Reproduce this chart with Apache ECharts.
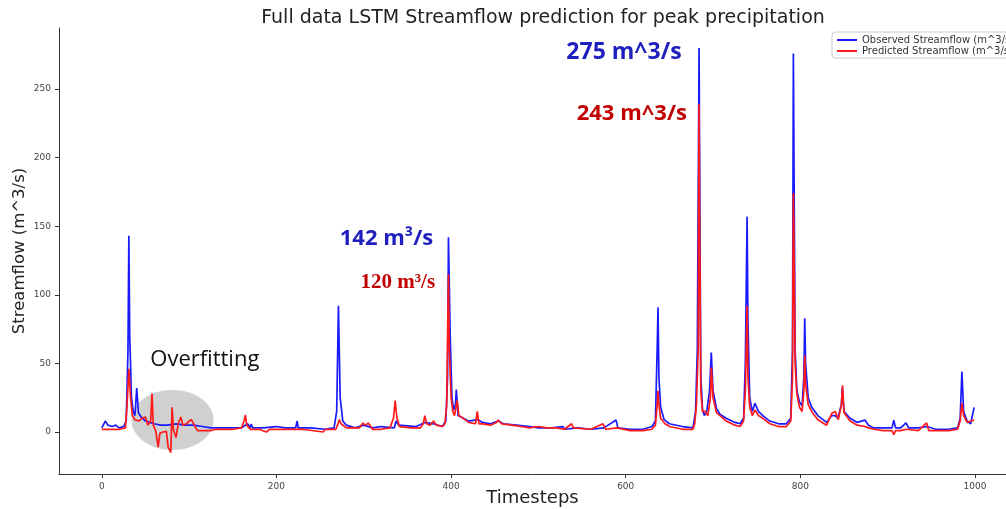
<!DOCTYPE html>
<html>
<head>
<meta charset="utf-8">
<script src="https://cdn.jsdelivr.net/npm/echarts@6/dist/echarts.min.js"></script>
<style>
  html, body { margin:0; padding:0; background:#fff; }
  #chart { width:1006px; height:509px; }
</style>
</head>
<body>
<div id="chart"></div>
<script>
// === Data (timestep, m^3/s) ===
const observed = [
  [0,3],[4,8],[7,5],[12,4],[16,5],[20,3],[25,4],[28,8],[30,60],[31,143],[32,70],[34,25],[36,15],[38,12],[40,32],[42,14],
  [45,11],[50,8],[55,7],[60,6],[67,5],[75,5],[86,6],[95,5],[105,5],[115,4],[125,3],[140,3],[150,3],[160,3],[167,6],[170,3],
  [171,5.7],[173,3],[185,3],[200,4],[210,3],[222,3],[223.7,8],[225,3],[240,3],[255,2],[266,3],[269,15],[271,92],[273,25],
  [276,8],[280,5],[290,3],[300,5],[310,3],[320,4],[335,3],[337,8],[340,5],[360,4],[370,7],[380,6],[390,4],[394,8],[396,40],
  [397,142],[399,70],[401,25],[403,16],[405,20],[406,31],[408,12],[414,10],[420,8],[431,9],[436,7],[445,6],[454,8],[460,6],
  [475,5],[490,4],[500,3],[515,3],[528,4],[530,2],[545,3],[560,2],[575,3],[589,8.7],[591,3],[605,2],[620,2],[630,4],[634,8],
  [636,60],[637,91],[638,40],[640,18],[644,9],[650,6],[665,4],[677,3],[680,15],[682,60],[684,280],[685,150],[686,40],[688,16],
  [690,12],[693,16],[696,30],[698,58],[700,30],[704,17],[708,13],[715,10],[725,7],[731,6],[735,10],[737,50],[739,157],[740,80],
  [742,25],[745,15],[748,21],[752,15],[757,12],[765,8],[775,6],[784,6],[789,10],[791,60],[792,276],[793,165],[794,60],[796,30],
  [799,22],[802,19],[804,40],[805,83],[806,50],[809,25],[813,18],[820,12],[830,7],[836,12],[840,12],[843,10],[847,20],[848,32],
  [850,15],[857,10],[865,7],[874,8.7],[878,5],[884,3],[895,3],[905,3],[907,8.7],[909,3],[915,3],[921,6.6],[924,3],[935,3],
  [945,4],[955,2],[970,2],[980,3],[983,10],[985,44],[987,15],[991,8],[995,6],[997,5],[999,18]
];
const predicted = [
  [0,2],[10,2],[20,2],[27,3],[29,20],[31,46],[33,25],[35,12],[38,9],[42,8],[46,10],[50,11],[53,5],[56,8],[57.5,28],[59,5],
  [61,2],[62,0],[64.5,-11],[66.5,-1],[70,0],[74,0.5],[76,-11],[79,-15],[80.5,18],[82,2],[85,-4],[87.5,6],[90.5,11],[93,5],
  [97,6],[100,8],[102.5,9],[106,5],[109.5,1],[115,1],[125,1],[130,2],[140,2],[150,2],[160,3],[163,8],[164.5,12.4],[166,5],
  [170,2],[180,2],[188.6,0],[192,2],[210,2],[230,2],[253.5,0],[256,2],[268,2],[270,5],[272,9],[274,6],[280,3],[295,3],
  [299,6.5],[302,5],[305,6.5],[307,5],[310,2],[320,2],[330,3],[334,10],[336,23],[338,10],[341,4],[355,3],[365,3],[368,6],
  [370,12],[372,6],[376,5],[380,8],[383,5],[390,4],[393,6],[395,20],[396,70],[397,115],[398,60],[400,25],[402,15],[404,12],
  [407,23],[409,12],[414,10],[420,7],[428,6],[430,15],[432,6],[436,6],[445,5],[452,7],[454,8.7],[458,6],[470,5],[480,4],
  [490,3],[500,4],[510,3],[520,3],[530,2],[538,6],[540,3],[560,2],[574,6],[577,2],[590,3],[605,1],[620,1],[630,2],[634,5],
  [636,20],[637,30],[638,20],[640,10],[645,6],[650,4],[665,2],[677,2],[679,6],[681,20],[683,60],[684,239],[685,120],[686,30],
  [688,15],[691,15],[694,12],[697,25],[698,47],[700,25],[704,14],[708,12],[715,8],[725,5],[731,4],[735,8],[737,30],[739,92],
  [740,40],[742,18],[745,12],[748,16],[752,12],[757,10],[765,6],[775,4],[784,4],[789,8],[791,40],[792,174],[793,120],[794,50],
  [796,28],[799,18],[802,15],[804,30],[805,56],[806,35],[809,20],[813,15],[820,9],[830,5],[836,13.6],[840,15],[843.5,9],
  [847,20],[848.4,34],[850,14],[857,8],[865,5],[874,4],[878,3],[884,2],[895,1],[905,1],[907,-2],[909,1],[915,1],[921,2],
  [935,1],[944.6,6.6],[947,1],[955,1],[970,1],[980,2],[983,8],[985,21],[987,12],[991,7],[995,8],[999,8.7]
];
const xTicks = [0, 200, 400, 600, 800, 1000];
const yTicks = [0, 50, 100, 150, 200, 250];
const seriesNames = ['Observed Streamflow (m^3/s)', 'Predicted Streamflow (m^3/s)'];

// annotations, placed in data coords
const notes = [
  { text:'275 m^3/s', at:[598,277], color:'#1f1fbf', font:'bold 23px "Open Sans"' },
  { text:'243 m^3/s', at:[607,232], color:'#c00000', font:'bold 22px "Open Sans"' },
  { text:'142 m³/s',  at:[326,141], color:'#1f1fbf', font:'bold 22px "Open Sans"' },
  { text:'120 m³/s',  at:[339,109], color:'#c00000', font:'bold 21px "Liberation Serif"' },
  { text:'Overfitting', at:[118,52.5], color:'#111', font:'22px "Open Sans"' }
];
const blob = { at:[81,8.7], rx:41, ry:30 };

// === Palette / axes ===
const blue = '#1a1aff', red = '#ff1a1a', ink = '#333';
const tickLbl = { color:'#444', fontSize:9, fontFamily:'DejaVu Sans', formatter:v=>String(v) };

const option = {
  animation:false,
  title:{ text:'Full data LSTM Streamflow prediction for peak precipitation', left:538, textAlign:'center', top:4,
    textStyle:{ fontFamily:'DejaVu Sans', fontSize:19, fontWeight:'normal', color:'#222' } },
  legend:{ data:seriesNames, orient:'vertical', left:832, top:32, itemWidth:20, itemHeight:2, itemGap:1,
    icon:'rect', padding:[3,6,2,5], backgroundColor:'#fff', borderColor:'#ccc', borderWidth:1, borderRadius:3,
    textStyle:{ fontFamily:'DejaVu Sans', fontSize:10, color:'#333' } },
  grid:{ left:59, right:0, top:28, bottom:35, outerBoundsMode:'none' },
  xAxis:{ type:'value', min:-49, max:1035.5,
    name:'Timesteps', nameLocation:'middle', nameGap:15, nameMoveOverlap:false,
    nameTextStyle:{ fontFamily:'DejaVu Sans', fontSize:18, color:'#222' },
    axisLine:{ onZero:false, lineStyle:{ color:ink, width:1 } },
    axisTick:{ customValues:xTicks, length:4, lineStyle:{ color:ink } },
    axisLabel:{ customValues:xTicks, margin:8, ...tickLbl },
    splitLine:{ show:false } },
  yAxis:{ type:'value', min:-30.6, max:294.5,
    name:'Streamflow (m^3/s)', nameLocation:'middle', nameGap:31, nameMoveOverlap:false,
    nameTextStyle:{ fontFamily:'DejaVu Sans', fontSize:16.5, color:'#222' },
    axisLine:{ show:true, onZero:false, lineStyle:{ color:ink, width:1 } },
    axisTick:{ show:true, customValues:yTicks, length:4, lineStyle:{ color:ink } },
    axisLabel:{ customValues:yTicks, margin:8, ...tickLbl },
    splitLine:{ show:false } },
  series:[
    { name:seriesNames[0], type:'line', data:observed, symbol:'none', lineStyle:{ color:blue, width:1.7 }, itemStyle:{ color:blue } },
    { name:seriesNames[1], type:'line', data:predicted, symbol:'none', lineStyle:{ color:red, width:1.7 }, itemStyle:{ color:red } }
  ]
};

const chart = echarts.init(document.getElementById('chart'));
chart.setOption(option);

// === Annotations (need the scales first) ===
const px = p => chart.convertToPixel({ gridIndex:0 }, p);
const c = px(blob.at);
const graphics = [
  { type:'ellipse', shape:{ cx:c[0], cy:c[1], rx:blob.rx, ry:blob.ry }, style:{ fill:'rgba(170,170,170,0.55)' }, z:1 }
];
notes.forEach(n => {
  const p = px(n.at);
  graphics.push({ type:'text', x:p[0], y:p[1], z:10,
    style:{ text:n.text, font:n.font, fill:n.color, align:'center', verticalAlign:'middle' } });
});
chart.setOption({ graphic:graphics });
</script>
</body>
</html>
